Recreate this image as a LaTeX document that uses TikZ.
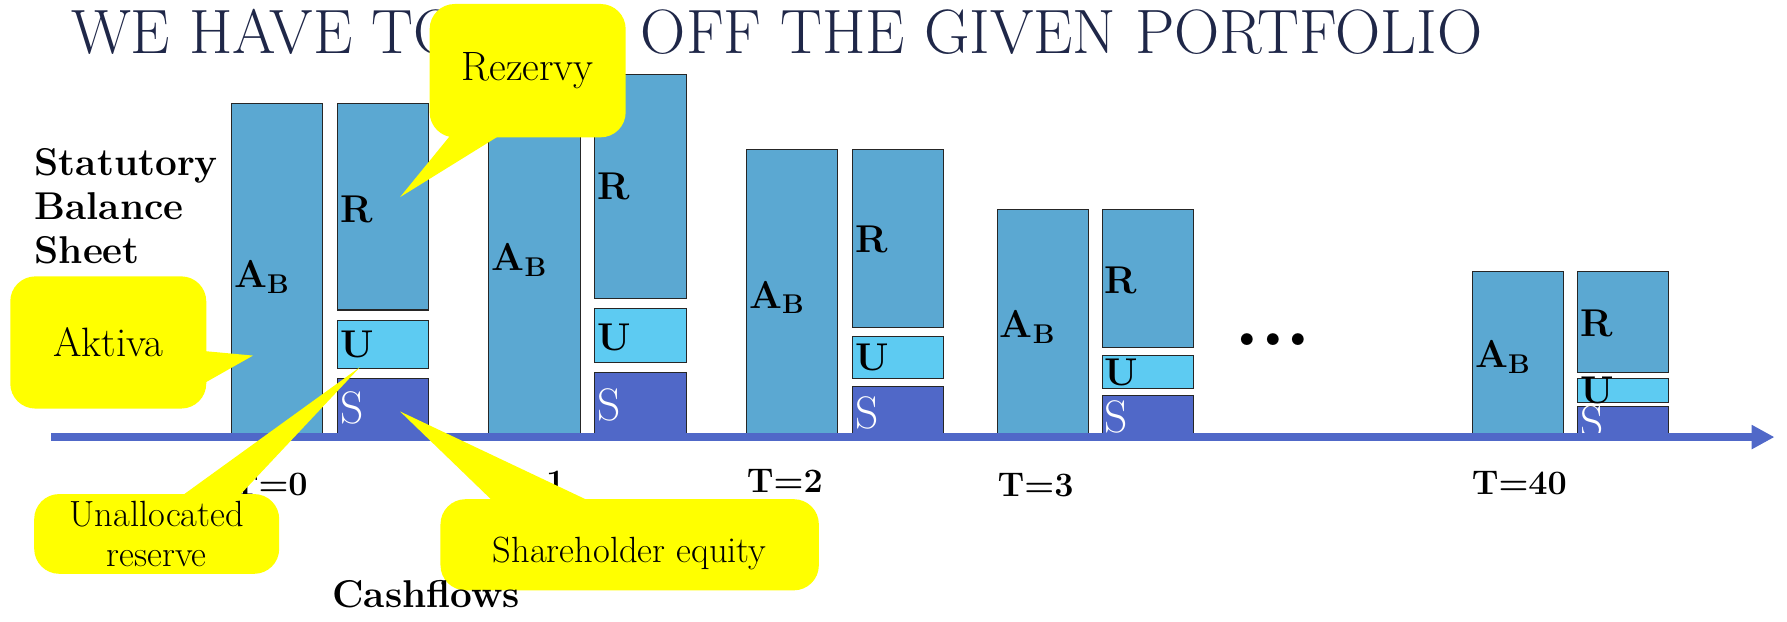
\documentclass[tikz,border=0pt]{standalone}
\usepackage{fontspec}
\usetikzlibrary{arrows.meta}

\definecolor{barblue}{HTML}{5BA8D2}
\definecolor{ublue}{HTML}{5DCBF2}
\definecolor{sblue}{HTML}{5068C8}
\definecolor{titlenavy}{HTML}{1F2748}
\definecolor{calloutyellow}{HTML}{FFFF00}

\tikzset{
  rbar/.style={draw=black!85, line width=0.5pt, fill=barblue},
  ubar/.style={draw=black!85, line width=0.5pt, fill=ublue},
  sbar/.style={draw=black!85, line width=0.5pt, fill=sblue},
  barlbl/.style={anchor=west, inner sep=1pt, font=\fontsize{17}{20}\selectfont\bfseries},
  slbl/.style={anchor=west, inner sep=1pt, text=white, font=\fontsize{20}{22}\selectfont},
  tlbl/.style={anchor=west, inner sep=0pt, font=\fontsize{15}{18}\selectfont\bfseries},
  titletext/.style={anchor=base west, inner sep=0pt, text=titlenavy, font=\fontsize{27.5}{32}\selectfont},
  timeaxis/.style={draw=sblue, line width=3.5pt, -{Triangle[length=10pt,width=10pt]}},
  callout/.style={fill=calloutyellow, rounded corners=11pt, align=center, inner sep=0pt},
  pointer/.style={fill=calloutyellow},
}

\begin{document}
\begin{tikzpicture}[x=0.5pt, y=-0.5pt]
\useasboundingbox (0,0) rectangle (1568,545);

\node[titletext] (title) at (62,47) {WE HAVE TO RUN};
\node[titletext] (titlerest) at (562,47) {OFF THE GIVEN PORTFOLIO};
\node[anchor=north west, inner sep=0pt, align=left, font=\fontsize{17}{19.3}\selectfont\bfseries] (statutory) at (30,130) {Statutory\\Balance\\Sheet};

% T=0
\draw[rbar] (203,91) rectangle (283,381);
\draw[rbar] (296,91) rectangle (376,272);
\draw[ubar] (296,281) rectangle (376,323);
\draw[sbar] (296,332) rectangle (376,381);
\node[barlbl] (a0) at (203,243) {A\textsubscript{B}};
\node[barlbl] (r0) at (296,184) {R};
\node[barlbl] (u0) at (296,302) {U};
\node[slbl] (s0) at (296,358) {S};

% T=1
\draw[rbar] (429,65) rectangle (509,381);
\draw[rbar] (522,65) rectangle (602,262);
\draw[ubar] (522,271) rectangle (602,318);
\draw[sbar] (522,327) rectangle (602,381);
\node[barlbl] (a1) at (429,228) {A\textsubscript{B}};
\node[barlbl] (r1) at (522,164) {R};
\node[barlbl] (u1) at (522,296) {U};
\node[slbl] (s1) at (522,355) {S};

% T=2
\draw[rbar] (655,131) rectangle (735,381);
\draw[rbar] (748,131) rectangle (828,287);
\draw[ubar] (748,295) rectangle (828,332);
\draw[sbar] (748,339) rectangle (828,381);
\node[barlbl] (a2) at (655,261) {A\textsubscript{B}};
\node[barlbl] (r2) at (748,210) {R};
\node[barlbl] (u2) at (748,314) {U};
\node[slbl] (s2) at (748,362) {S};

% T=3
\draw[rbar] (875,184) rectangle (955,381);
\draw[rbar] (967,184) rectangle (1047,305);
\draw[ubar] (967,312) rectangle (1047,341);
\draw[sbar] (967,347) rectangle (1047,381);
\node[barlbl] (a3) at (875,287) {A\textsubscript{B}};
\node[barlbl] (r3) at (967,246) {R};
\node[barlbl] (u3) at (967,327) {U};
\node[slbl] (s3) at (967,366) {S};

\node[anchor=base, inner sep=0pt, font=\fontsize{36}{40}\selectfont\bfseries] (dots) at (1117,303) {...};

% T=40
\draw[rbar] (1292,238) rectangle (1372,381);
\draw[rbar] (1384,238) rectangle (1464,327);
\draw[ubar] (1384,332) rectangle (1464,353);
\draw[sbar] (1384,357) rectangle (1464,381);
\node[barlbl] (a40) at (1292,313) {A\textsubscript{B}};
\node[barlbl] (r40) at (1384,284) {R};
\node[barlbl] (u40) at (1384,343) {U};
\node[slbl] (s40) at (1384,370) {S};

\coordinate (axstart) at (45,383.5);
\coordinate (axend) at (1557,383.5);
\draw[timeaxis] (axstart) -- (axend);

\node[tlbl] (t0) at (203,425) {T=0};
\node[tlbl] (t1) at (429,423) {T=1};
\node[tlbl] (t2) at (655,422) {T=2};
\node[tlbl] (t3) at (875,426) {T=3};
\node[tlbl] (t40) at (1291,424) {T=40};

% callouts
\node[callout, minimum width=86pt, minimum height=58.5pt, font=\fontsize{18}{21}\selectfont] (rezervy) at (463,62) {Rezervy};
\coordinate (rezervytip) at (351,173);
\fill[pointer] ([xshift=-31.5pt,yshift=4pt]rezervy.south) -- (rezervytip) -- ([xshift=-7.5pt,yshift=4pt]rezervy.south) -- cycle;

\node[callout, minimum width=86pt, minimum height=58pt, font=\fontsize{18}{21}\selectfont] (aktiva) at (95,300.5) {Aktiva};
\coordinate (aktivatip) at (222,312);
\fill[pointer] ([xshift=-4pt,yshift=-3.5pt]aktiva.east) -- (aktivatip) -- ([xshift=-4pt,yshift=-19.5pt]aktiva.east) -- cycle;

\node[callout, minimum width=107.5pt, minimum height=35pt, font=\fontsize{16}{17.5}\selectfont] (unalloc) at (137.5,468.5) {Unallocated\\reserve};
\coordinate (unalloctip) at (316,322);
\fill[pointer] ([xshift=8.25pt,yshift=-3pt]unalloc.north) -- (unalloctip) -- ([xshift=34.25pt,yshift=-3pt]unalloc.north) -- cycle;

\node[callout, minimum width=166pt, minimum height=40pt, font=\fontsize{16}{19}\selectfont] (equity) at (552.5,478) {\raisebox{-4pt}[\height][\depth]{Shareholder equity}};
\coordinate (equitytip) at (351,361);
\fill[pointer] ([xshift=-58pt,yshift=-3pt]equity.north) -- (equitytip) -- ([xshift=-13.5pt,yshift=-3pt]equity.north) -- cycle;

\node[anchor=base, inner sep=0pt, font=\fontsize{17}{20}\selectfont\bfseries] (cashflows) at (374,533) {Cashflows};
\end{tikzpicture}
\end{document}
